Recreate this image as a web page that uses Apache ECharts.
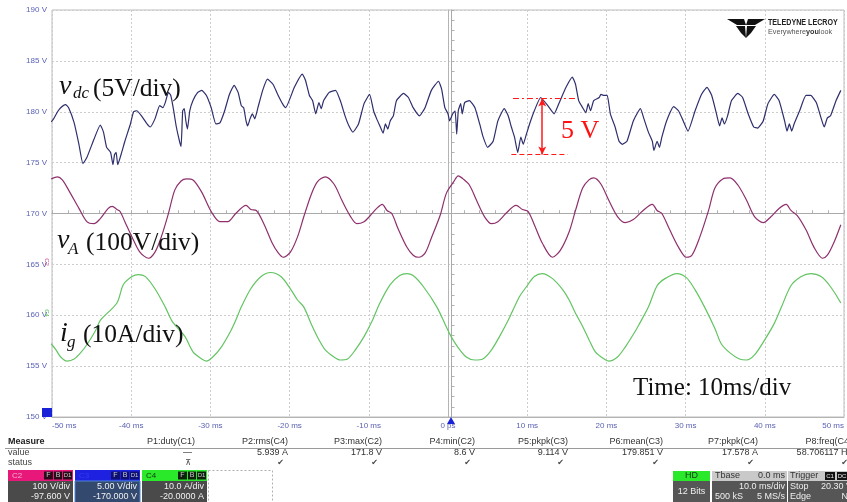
<!DOCTYPE html>
<html>
<head>
<meta charset="utf-8">
<script src="https://cdn.jsdelivr.net/npm/echarts@6/dist/echarts.min.js"></script>
<style>
html, body { margin: 0; padding: 0; background: #fff; }
#scopeView { width: 847px; height: 502px; }
</style>
</head>
<body>
<div id="scopeView"></div>
<script>
// axis ticks
const timeTicks = [-50, -40, -30, -20, -10, 0, 10, 20, 30, 40, 50]
const voltTicks = [150, 155, 160, 165, 170, 175, 180, 185, 190]

// C3 : v_dc trace (time ms / volts on screen)
const vdcTime = [
  -50.1, -49.8, -49.3, -48.9, -48.3, -47.9, -47.2, -46.6, -46.1, -45.6,
  -44.7, -43.9, -43.5, -43.1, -42.6, -42.3, -42.1, -41.9, -41.7, -41.2,
  -40.8, -40.1, -39.7, -39.3, -38.7, -38.0, -37.6, -37.0, -36.4, -36.0,
  -35.7, -35.3, -35.0, -34.7, -34.3, -33.9, -33.7, -33.5, -33.3, -33.1,
  -32.9, -32.6, -32.2, -31.6, -31.1, -30.5, -29.9, -29.3, -28.8, -28.2,
  -27.6, -27.0, -26.5, -26.1, -25.8, -25.5, -25.3, -25.0, -24.7, -24.4,
  -24.0, -23.4, -22.8, -22.1, -21.5, -20.9, -20.5, -19.4, -18.4, -18.0,
  -17.5, -17.1, -16.7, -16.3, -16.0, -15.7, -15.0, -14.2, -13.6, -13.0,
  -12.5, -12.0, -11.3, -10.6, -9.9, -9.4, -9.0, -8.6, -8.2, -7.9,
  -7.6, -7.3, -6.9, -6.5, -5.6, -5.0, -4.4, -3.6, -2.9, -2.1,
  -1.2, -0.8, -0.4, 0.0, 0.2, 0.6, 0.9, 1.1, 1.3, 1.6,
  1.8, 2.1, 2.7, 3.4, 4.0, 4.4, 5.0, 5.7, 6.3, 7.1,
  7.6, 8.0, 8.4, 8.8, 9.2, 9.5, 9.9, 10.3, 10.9, 11.7,
  12.6, 13.4, 14.0, 14.9, 15.7, 16.1, 16.5, 17.0, 17.4, 17.7,
  18.0, 18.4, 19.1, 19.3, 19.7, 20.1, 20.5, 21.1, 21.6, 22.0,
  22.6, 23.4, 24.3, 24.7, 25.3, 25.8, 26.0, 26.4, 26.7, 27.0,
  27.6, 28.5, 29.1, 29.7, 30.3, 31.2, 32.0, 32.7, 33.3, 33.9,
  34.3, 34.6, 34.9, 35.3, 35.8, 36.6, 37.2, 37.9, 38.6, 39.1,
  39.8, 40.4, 41.2, 41.8, 42.5, 42.8, 43.1, 43.4, 43.7, 44.4,
  45.2, 45.8, 46.5, 47.1, 47.5, 47.9, 48.3, 49.0, 49.6
]
const vdcVolt = [
  179.0, 179.3, 180.0, 180.4, 180.7, 180.4, 178.9, 176.8, 174.9, 175.5,
  177.3, 178.7, 178.0, 176.5, 176.0, 174.8, 175.8, 176.0, 174.8, 176.0,
  177.1, 178.8, 180.0, 180.1, 179.6, 178.8, 178.5, 179.3, 180.6, 180.4,
  180.9, 181.9, 181.6, 180.4, 178.5, 177.1, 176.6, 180.1, 180.3, 179.1,
  178.3, 180.1, 181.1, 181.9, 182.1, 181.6, 180.4, 178.8, 178.9, 180.1,
  181.7, 182.6, 181.9, 180.6, 180.4, 179.1, 178.6, 179.3, 179.8, 179.3,
  180.4, 182.1, 183.2, 182.7, 181.7, 180.8, 180.4, 182.4, 183.7, 183.1,
  181.6, 181.1, 179.8, 180.9, 180.3, 181.1, 181.9, 182.1, 181.1, 179.6,
  178.6, 178.0, 178.8, 180.8, 181.7, 180.1, 179.3, 178.6, 177.9, 178.8,
  178.3, 179.1, 179.6, 181.1, 181.8, 181.4, 180.4, 179.6, 180.4, 182.1,
  183.0, 182.2, 180.4, 179.8, 179.1, 179.8, 180.1, 177.8, 180.1, 180.8,
  179.8, 180.9, 181.1, 180.4, 178.8, 177.6, 176.5, 177.1, 179.1, 180.3,
  179.6, 178.5, 177.5, 176.0, 177.5, 176.8, 177.8, 178.8, 180.1, 181.4,
  180.6, 179.8, 180.8, 182.4, 183.4, 182.7, 181.1, 180.4, 179.9, 180.8,
  180.1, 181.1, 181.4, 181.7, 181.6, 181.6, 179.8, 178.5, 177.1, 176.8,
  177.1, 179.1, 180.3, 179.4, 178.0, 177.1, 176.2, 177.1, 176.5, 177.5,
  179.1, 180.5, 180.1, 179.1, 178.1, 180.1, 181.7, 182.4, 181.6, 179.8,
  178.6, 179.4, 178.8, 179.6, 181.1, 181.8, 181.4, 179.8, 178.5, 178.4,
  179.1, 180.8, 181.7, 181.1, 179.1, 178.1, 178.8, 178.1, 178.8, 180.1,
  181.6, 181.6, 180.9, 179.4, 178.5, 179.4, 179.6, 181.1, 182.1
]

// C2 : v_A trace
const vaTime = [
  -50.1, -49.3, -48.7, -47.9, -46.6, -45.6, -44.7, -43.9, -42.9, -42.4,
  -41.8, -41.4, -40.8, -39.9, -38.9, -37.8, -37.0, -36.2, -35.3, -34.5,
  -33.7, -33.0, -32.2, -31.1, -29.9, -28.8, -27.8, -26.8, -25.5, -24.9,
  -24.2, -23.2, -22.2, -21.5, -20.8, -19.9, -19.0, -18.2, -17.3, -16.5,
  -15.5, -14.4, -13.4, -12.3, -11.5, -10.6, -9.8, -9.0, -8.3, -7.7,
  -7.1, -6.3, -5.2, -4.4, -3.7, -2.9, -2.1, -1.0, -0.2, 0.7,
  1.3, 1.9, 2.7, 3.6, 4.6, 5.5, 6.3, 7.3, 8.6, 9.4,
  10.1, 10.9, 11.9, 13.2, 14.2, 15.3, 16.1, 17.0, 17.8, 18.4,
  19.3, 20.3, 21.4, 22.4, 23.4, 24.5, 25.8, 26.4, 27.0, 28.0,
  29.1, 30.1, 30.8, 31.8, 32.9, 33.7, 34.7, 35.6, 36.6, 37.7,
  38.7, 39.8, 40.8, 41.8, 42.7, 43.3, 44.1, 45.2, 46.2, 47.3,
  47.9, 48.7, 49.6
]
const vaVolt = [
  173.4, 173.6, 173.3, 172.3, 170.5, 169.2, 169.0, 169.5, 170.5, 170.7,
  170.4, 170.2, 169.2, 167.7, 166.2, 165.6, 166.2, 167.7, 170.0, 172.3,
  173.2, 173.4, 173.3, 172.1, 170.2, 169.2, 169.2, 170.0, 170.8, 170.4,
  170.3, 168.9, 167.1, 166.2, 165.7, 166.2, 167.7, 169.7, 171.8, 173.1,
  173.6, 172.9, 171.3, 169.7, 169.0, 169.2, 169.8, 170.5, 170.9, 170.3,
  170.0, 168.5, 166.7, 165.9, 165.7, 166.1, 167.6, 169.8, 172.0, 173.1,
  173.7, 173.4, 172.8, 171.3, 169.7, 169.0, 169.2, 170.0, 170.8, 170.4,
  170.2, 168.9, 167.1, 165.7, 166.4, 168.2, 170.3, 172.5, 173.3, 173.5,
  172.9, 171.3, 169.7, 169.1, 169.4, 170.2, 170.9, 170.3, 170.0, 168.4,
  166.7, 165.7, 165.9, 167.7, 170.3, 172.5, 173.4, 173.5, 172.8, 171.3,
  169.7, 169.1, 169.7, 170.5, 170.9, 170.3, 169.8, 168.4, 166.7, 165.6,
  165.9, 167.1, 168.9
]

// C4 : i_g trace
const igTime = [
  -50.1, -49.5, -48.9, -48.1, -47.2, -46.4, -45.6, -44.5, -43.9, -41.8,
  -41.0, -39.9, -39.1, -38.2, -37.0, -35.7, -34.9, -34.1, -33.2, -32.2,
  -31.1, -30.5, -29.7, -28.6, -27.4, -26.8, -26.1, -24.9, -23.6, -22.4,
  -21.1, -19.9, -19.0, -18.2, -17.3, -16.3, -15.5, -14.4, -13.6, -12.7,
  -11.7, -10.6, -9.6, -8.6, -7.3, -6.1, -5.2, -4.4, -3.1, -1.4,
  -0.3, 0.4, 1.3, 2.3, 3.4, 4.4, 5.5, 6.5, 7.6, 9.0,
  9.9, 10.9, 11.9, 13.2, 14.5, 15.3, 16.1, 17.0, 17.8, 18.6,
  19.7, 20.3, 21.4, 22.4, 23.7, 24.2, 25.3, 26.4, 27.4, 28.9,
  30.1, 31.2, 32.4, 33.7, 34.5, 35.6, 36.8, 37.7, 38.7, 40.0,
  41.2, 42.1, 43.3, 44.6, 45.8, 47.1, 48.3, 49.6
]
const igVolt = [
  157.2, 156.6, 155.9, 155.5, 155.7, 156.3, 157.1, 158.5, 159.5, 161.2,
  163.0, 163.8, 164.0, 163.8, 162.6, 160.8, 159.5, 158.7, 157.9, 156.4,
  155.7, 155.5, 155.9, 156.9, 158.5, 159.5, 160.8, 162.6, 163.8, 164.2,
  163.8, 162.6, 161.5, 160.8, 159.2, 157.6, 156.6, 155.9, 155.6, 155.7,
  156.6, 157.9, 159.4, 161.2, 163.0, 163.9, 164.1, 163.9, 162.8, 160.8,
  159.0, 157.9, 156.8, 155.9, 155.6, 155.7, 156.6, 157.9, 159.5, 161.8,
  162.8, 163.8, 164.1, 163.6, 162.5, 161.5, 160.2, 158.9, 157.6, 156.4,
  155.7, 155.5, 155.9, 156.9, 158.5, 159.2, 160.8, 162.9, 163.6, 164.1,
  163.7, 162.5, 160.8, 158.7, 157.2, 156.3, 155.7, 155.6, 156.1, 157.6,
  159.2, 160.8, 162.9, 163.8, 164.1, 163.8, 162.8, 161.2
]

// 5 V ripple marker on v_dc
const rippleTop = 181.3
const rippleBottom = 175.8

// measurement strip
const measNames = ['P1:duty(C1)', 'P2:rms(C4)', 'P3:max(C2)', 'P4:min(C2)', 'P5:pkpk(C3)', 'P6:mean(C3)', 'P7:pkpk(C4)', 'P8:freq(C4)']
const measValues = ['\u2014', '5.939 A', '171.8 V', '8.6 V', '9.114 V', '179.851 V', '17.578 A', '58.706117 Hz']
const measStatus = ['\u22BC', '\u2714', '\u2714', '\u2714', '\u2714', '\u2714', '\u2714', '\u2714']
const chanNames = ['C2', 'C3', 'C4']
const chanScale = ['100 V/div', '5.00 V/div', '10.0 A/div']
const chanOffset = ['-97.600 V', '-170.000 V', '-20.0000 A']

const zip = (a, b) => a.map((v, i) => [v, b[i]])

const SANS = 'Liberation Sans'
const SERIF = 'Liberation Serif'

function txt(x, y, text, o) {
  o = o || {}
  const el = {
    type: 'text', x: x, y: y, silent: true, z: o.z || 10,
    style: {
      text: text,
      fill: o.fill || '#222',
      font: (o.italic ? 'italic ' : '') + (o.bold ? 'bold ' : '') + (o.size || 9) + 'px "' + (o.family || SANS) + '"',
      align: o.align || 'left',
      verticalAlign: o.va || 'middle'
    }
  }
  if (o.scaleX) el.scaleX = o.scaleX
  return el
}
function box(x, y, w, h, fill, stroke, dash) {
  return {
    type: 'rect', silent: true, z: 5,
    shape: { x: x, y: y, width: w, height: h },
    style: { fill: fill || 'none', stroke: stroke || null, lineWidth: 1, lineDash: dash || null }
  }
}

function buildGraphics() {
  const g = []
  // trace labels
  const ink = '#111'
  g.push(txt(59, 87, 'v', { italic: true, size: 28, family: SERIF, fill: ink }))
  g.push(txt(73, 94, 'dc', { italic: true, size: 17, family: SERIF, fill: ink }))
  g.push(txt(93, 89, '(5V/div)', { size: 25.5, family: SERIF, fill: ink }))
  g.push(txt(57, 241, 'v', { italic: true, size: 28, family: SERIF, fill: ink }))
  g.push(txt(68, 250, 'A', { italic: true, size: 17, family: SERIF, fill: ink }))
  g.push(txt(86, 243, '(100V/div)', { size: 25.5, family: SERIF, fill: ink }))
  g.push(txt(60, 334, 'i', { italic: true, size: 28, family: SERIF, fill: ink }))
  g.push(txt(67, 343, 'g', { italic: true, size: 17, family: SERIF, fill: ink }))
  g.push(txt(83, 335, '(10A/div)', { size: 25.5, family: SERIF, fill: ink }))
  g.push(txt(633, 388, 'Time: 10ms/div', { size: 25, family: SERIF, fill: ink }))
  g.push(txt(561, 131, '5 V', { size: 26, family: SERIF, fill: '#ff1010' }))

  // logo
  const logo = [
    [[727, 19], [744, 19], [746, 25], [737, 25]],
    [[748, 19], [765, 19], [755, 25], [746, 25]],
    [[736, 26], [745, 26], [746, 38], [741, 33]],
    [[747, 26], [756, 26], [751, 33], [746, 38]]
  ]
  logo.forEach(p => g.push({ type: 'polygon', silent: true, z: 10, shape: { points: p }, style: { fill: '#111' } }))
  g.push(txt(768, 23, 'TELEDYNE LECROY', { bold: true, size: 8.5, fill: '#222', scaleX: 0.84 }))
  g.push({
    type: 'text', x: 768, y: 32, scaleX: 0.9, silent: true, z: 10,
    style: {
      text: '{a|Everywhere}{b|you}{a|look}',
      verticalAlign: 'middle',
      rich: {
        a: { fontSize: 8, fontFamily: SANS, fill: '#555' },
        b: { fontSize: 8, fontFamily: SANS, fontWeight: 'bold', fill: '#333' }
      }
    }
  })

  // small screen markers
  g.push(box(42, 408, 10, 9, '#1a22d8'))
  g.push({ type: 'polygon', silent: true, z: 6, shape: { points: [[447, 424], [455, 424], [451, 417]] }, style: { fill: '#1a22d8' } })
  g.push({ type: 'text', x: 47, y: 262, rotation: -Math.PI / 2, silent: true, z: 6,
    style: { text: 'C2', font: '6px "' + SANS + '"', fill: '#d04a8a', align: 'center', verticalAlign: 'middle' } })
  g.push({ type: 'text', x: 47, y: 313, rotation: -Math.PI / 2, silent: true, z: 6,
    style: { text: 'C4', font: '6px "' + SANS + '"', fill: '#4fc24f', align: 'center', verticalAlign: 'middle' } })

  // measurement table
  const colRight = [195, 288, 382, 475, 568, 663, 758, 852]
  g.push(txt(8, 442, 'Measure', { bold: true, size: 9 }))
  g.push(txt(8, 453, 'value', { size: 9, fill: '#444' }))
  g.push(txt(8, 463, 'status', { size: 9, fill: '#444' }))
  g.push({ type: 'line', silent: true, z: 5, shape: { x1: 5, y1: 448.5, x2: 847, y2: 448.5 }, style: { stroke: '#9a9a9a', lineWidth: 1 } })
  measNames.forEach((n, i) => {
    g.push(txt(colRight[i], 442, n, { size: 9, align: 'right', fill: '#333' }))
    g.push(txt(colRight[i] - (i === 0 ? 3 : 0), 453, measValues[i], { size: 9, align: 'right', fill: '#333' }))
    g.push(txt(colRight[i] - 4, 463, measStatus[i], { size: 8, align: 'right', fill: '#444', family: 'DejaVu Sans' }))
  })

  // channel descriptor boxes
  const chanX = [8, 75, 142]
  const chanHead = ['#e8187a', '#1e22e0', '#2ae82a']
  const chanBody = ['#4a4a4a', '#34496e', '#4a4a4a']
  const chanHeadText = ['#f6b0d0', '#2e3cf0', '#123812']
  const chanIcon = ['#2a0a18', '#0d1070', '#0c200c']
  chanNames.forEach((c, i) => {
    const x = chanX[i]
    g.push(box(x, 470, 65, 11, chanHead[i]))
    g.push(box(x, 481, 65, 23, chanBody[i], i === 1 ? '#4f86d8' : null))
    g.push(txt(x + 4, 475.5, c, { size: 8, fill: chanHeadText[i] }))
    g.push(box(x + 36, 471.5, 9, 8, chanIcon[i]))
    g.push(box(x + 46, 471.5, 8, 8, chanIcon[i]))
    g.push(box(x + 55, 471.5, 9, 8, chanIcon[i]))
    g.push(txt(x + 40.5, 475.5, 'F', { size: 7, align: 'center', fill: '#ccc' }))
    g.push(txt(x + 50, 475.5, 'B', { size: 7, align: 'center', fill: '#ccc' }))
    g.push(txt(x + 59.5, 475.5, 'D1', { size: 6, align: 'center', fill: '#ccc' }))
    g.push(txt(x + 62, 487, chanScale[i], { size: 9, align: 'right', fill: '#f0f0f0' }))
    g.push(txt(x + 62, 497, chanOffset[i], { size: 9, align: 'right', fill: '#f0f0f0' }))
  })
  g.push(box(208.5, 470.5, 64, 33, null, '#b0b0b0', [2, 2]))

  // acquisition boxes
  g.push(box(673, 471, 37, 10, '#2ae82a'))
  g.push(txt(691.5, 476, 'HD', { size: 9, align: 'center', fill: '#173a17' }))
  g.push(box(673, 481, 37, 23, '#565656'))
  g.push(txt(691.5, 492, '12 Bits', { size: 9, align: 'center', fill: '#eee' }))
  g.push(box(712, 471, 75, 10, '#c9c9c9'))
  g.push(txt(715, 476, 'Tbase', { size: 9, fill: '#333' }))
  g.push(txt(785, 476, '0.0 ms', { size: 9, align: 'right', fill: '#333' }))
  g.push(box(712, 481, 75, 23, '#565656'))
  g.push(txt(785, 487, '10.0 ms/div', { size: 9, align: 'right', fill: '#eee' }))
  g.push(txt(715, 497, '500 kS', { size: 9, fill: '#eee' }))
  g.push(txt(785, 497, '5 MS/s', { size: 9, align: 'right', fill: '#eee' }))
  g.push(box(788, 471, 62, 10, '#c9c9c9'))
  g.push(txt(790, 476, 'Trigger', { size: 9, fill: '#333' }))
  g.push(box(825, 472, 10, 8, '#111'))
  g.push(txt(830, 476, 'C1', { size: 6, align: 'center', fill: '#eee' }))
  g.push(box(837, 472, 10, 8, '#111'))
  g.push(txt(842, 476, 'DC', { size: 6, align: 'center', fill: '#eee' }))
  g.push(box(788, 481, 62, 23, '#565656'))
  g.push(txt(790, 487, 'Stop', { size: 9, fill: '#eee' }))
  g.push(txt(852, 487, '20.30 V', { size: 9, align: 'right', fill: '#eee' }))
  g.push(txt(790, 497, 'Edge', { size: 9, fill: '#eee' }))
  g.push(txt(858, 497, 'Neg', { size: 9, align: 'right', fill: '#eee' }))
  return g
}

function initScopeView() {
  const chart = echarts.init(document.getElementById('scopeView'), null, { renderer: 'canvas' })
  const labelColor = '#5b62b4'
  const option = {
    animation: false,
    backgroundColor: '#fff',
    grid: { left: 52, top: 10, width: 798, height: 407, show: true, borderColor: '#bcbcbc', borderWidth: 1 },
    xAxis: [
      {
        type: 'value', min: timeTicks[0], max: timeTicks[timeTicks.length - 1], interval: 10,
        axisLine: { show: true, lineStyle: { color: '#b4b4b4' } },
        axisTick: { show: false },
        axisLabel: {
          color: labelColor, fontSize: 8, fontFamily: SANS, margin: 5,
          alignMinLabel: 'left', alignMaxLabel: 'right',
          formatter: v => (v === 0 ? '0 ps' : v + ' ms')
        },
        splitLine: { show: true, lineStyle: { color: '#cdcdcd', type: [2, 2] } }
      },
      {
        // centre graticule line (170 V) with its small divisions
        type: 'value', min: -50, max: 50, interval: 2, position: 'bottom', offset: -203.75,
        axisLine: { show: true, lineStyle: { color: '#a9a9a9' } },
        axisTick: { show: true, inside: true, length: 3, lineStyle: { color: '#b0b0b0' } },
        axisLabel: { show: false }, splitLine: { show: false }
      }
    ],
    yAxis: [
      {
        type: 'value', min: voltTicks[0], max: voltTicks[voltTicks.length - 1], interval: 5,
        axisLine: { show: true, lineStyle: { color: '#b4b4b4' } },
        axisTick: { show: false },
        axisLabel: { color: labelColor, fontSize: 8, fontFamily: SANS, margin: 5, formatter: v => v + ' V' },
        splitLine: { show: true, lineStyle: { color: '#cdcdcd', type: [2, 2] } }
      },
      {
        // centre graticule line (0 ms)
        type: 'value', min: 150, max: 190, interval: 1, position: 'left', offset: -399.5,
        axisLine: { show: true, lineStyle: { color: '#a9a9a9' } },
        axisTick: { show: true, inside: true, length: 3, lineStyle: { color: '#b0b0b0' } },
        axisLabel: { show: false }, splitLine: { show: false }
      }
    ],
    series: [
      {
        name: 'vdc', type: 'line', data: zip(vdcTime, vdcVolt), showSymbol: false, symbol: 'none',
        smooth: 0.15, lineStyle: { color: '#2e2e6e', width: 1.2 }, z: 4,
        markLine: {
          silent: true, symbol: ['none', 'none'], label: { show: false },
          lineStyle: { color: '#ff1a1a', width: 1.2, type: [5, 3] },
          data: [
            [{ coord: [8.2, rippleTop], lineStyle: { type: [6, 3, 2, 3] } }, { coord: [16.4, rippleTop] }],
            [{ coord: [8.0, rippleBottom] }, { coord: [15.1, rippleBottom] }],
            [
              { coord: [11.9, rippleTop], symbol: 'arrow', symbolSize: [6, 8], lineStyle: { type: 'solid', width: 1.5 } },
              { coord: [11.9, rippleBottom], symbol: 'arrow', symbolSize: [6, 8] }
            ]
          ]
        }
      },
      {
        name: 'vA', type: 'line', data: zip(vaTime, vaVolt), showSymbol: false, symbol: 'none',
        smooth: 0.3, lineStyle: { color: '#8e2f6c', width: 1.2 }, z: 3
      },
      {
        name: 'ig', type: 'line', data: zip(igTime, igVolt), showSymbol: false, symbol: 'none',
        smooth: 0.3, lineStyle: { color: '#62c462', width: 1.2 }, z: 3
      }
    ],
    graphic: buildGraphics()
  }
  option && chart.setOption(option)
  window.addEventListener('resize', function () {
    chart.resize()
  })
}

initScopeView()
</script>
</body>
</html>
